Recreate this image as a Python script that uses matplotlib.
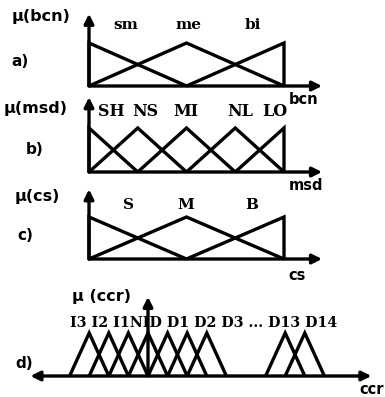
import matplotlib
matplotlib.use("Agg")
import matplotlib.pyplot as plt
from matplotlib.transforms import Affine2D

# linguistic terms and the peaks of their membership functions
bcn_terms = ["sm", "me", "bi"]
bcn_peaks = [0, 1, 2]
msd_terms = ["SH", "NS", "MI", "NL", "LO"]
msd_peaks = [0, 1, 2, 3, 4]
cs_terms = ["S", "M", "B"]
cs_peaks = [0, 1, 2]
ccr_terms = ["I3", "I2", "I1", "NID", "D1", "D2", "D3", "D13", "D14"]
ccr_peaks = [-3, -2, -1, 0, 1, 2, 3, 7, 8]

W, H = 385, 397
fig = plt.figure(figsize=(W / 100, H / 100), dpi=100)
base = fig.add_axes([0, 0, 1, 1])
base.set_xlim(0, W)
base.set_ylim(H, 0)
base.axis("off")

LW = 2.4
SERIF = dict(family="DejaVu Serif", weight="bold")
SANS = dict(family="DejaVu Sans", weight="bold")


def panel_tf(x0, y0, ux, uy):
    # data units of one panel -> pixel coordinates of the base axes
    return Affine2D().scale(ux, -uy).translate(x0, y0) + base.transData


def arrow(tf, p0, p1, style="-|>"):
    base.annotate("", xy=p1, xytext=p0, xycoords=tf, textcoords=tf,
                  arrowprops=dict(arrowstyle=style, lw=LW, color="k",
                                  shrinkA=0, shrinkB=0, mutation_scale=14))


def shoulder_sets(tf, peaks):
    # left shoulder, inner triangles, right shoulder
    n = len(peaks)
    for i, c in enumerate(peaks):
        if i == 0:
            xs, ys = [c, c, peaks[1]], [0, 1, 0]
        elif i == n - 1:
            xs, ys = [peaks[i - 1], c, c], [0, 1, 0]
        else:
            xs, ys = [peaks[i - 1], c, peaks[i + 1]], [0, 1, 0]
        base.plot(xs, ys, color="k", lw=LW, transform=tf,
                  solid_joinstyle="miter", solid_capstyle="butt")


# a) bcn
tf = panel_tf(89, 86, 97.5, 43)
shoulder_sets(tf, bcn_peaks)
arrow(tf, (0, 0), (0, 1.68))
arrow(tf, (0, 0), (2.39, 0))
for t, x in zip(bcn_terms, [126, 188, 253]):
    base.text(x, 25, t, ha="center", va="center", fontsize=11, **SERIF)
base.text(12, 17, "\u03bc(bcn)", ha="left", va="center", fontsize=11.5, **SANS)
base.text(11, 62, "a)", ha="left", va="center", fontsize=11, **SANS)
base.text(289, 99, "bcn", ha="left", va="center", fontsize=10.5, **SANS)

# b) msd
tf = panel_tf(89, 172, 48.75, 44)
shoulder_sets(tf, msd_peaks)
arrow(tf, (0, 0), (0, 1.70))
arrow(tf, (0, 0), (4.78, 0))
for t, x in zip(msd_terms, [111, 145, 186, 240, 275]):
    base.text(x, 112, t, ha="center", va="center", fontsize=11.5, **SERIF)
base.text(4, 108, "\u03bc(msd)", ha="left", va="center", fontsize=11.5, **SANS)
base.text(26, 150, "b)", ha="left", va="center", fontsize=11, **SANS)
base.text(289, 186, "msd", ha="left", va="center", fontsize=10.5, **SANS)

# c) cs
tf = panel_tf(89, 259, 97.5, 42)
shoulder_sets(tf, cs_peaks)
arrow(tf, (0, 0), (0, 1.66))
arrow(tf, (0, 0), (2.39, 0))
for t, x in zip(cs_terms, [129, 186, 252]):
    base.text(x, 205, t, ha="center", va="center", fontsize=11, **SERIF)
base.text(15, 196, "\u03bc(cs)", ha="left", va="center", fontsize=11.5, **SANS)
base.text(17, 236, "c)", ha="left", va="center", fontsize=11, **SANS)
base.text(288, 275, "cs", ha="left", va="center", fontsize=10.5, **SANS)

# d) ccr
tf = panel_tf(148, 376, 19.6, 43)
for c in ccr_peaks:
    base.plot([c - 1, c, c + 1], [0, 1, 0], color="k", lw=LW, transform=tf,
              solid_joinstyle="miter", solid_capstyle="butt")
arrow(tf, (0, 0), (0, 1.84))
arrow(tf, (-6.0, 0), (11.4, 0), style="<|-|>")
label = (" ".join(ccr_terms[:2]) + " " + ccr_terms[2] + ccr_terms[3] + " "
         + " ".join(ccr_terms[4:7]) + " ... " + " ".join(ccr_terms[7:]))
base.text(70, 323, label, ha="left", va="center", fontsize=10.3, **SERIF)
base.text(72, 296, "\u03bc (ccr)", ha="left", va="center", fontsize=11.5, **SANS)
base.text(15, 363, "d)", ha="left", va="center", fontsize=11, **SANS)
base.text(359, 390, "ccr", ha="left", va="center", fontsize=10.5, **SANS)

fig.savefig("out.png", dpi=100)
